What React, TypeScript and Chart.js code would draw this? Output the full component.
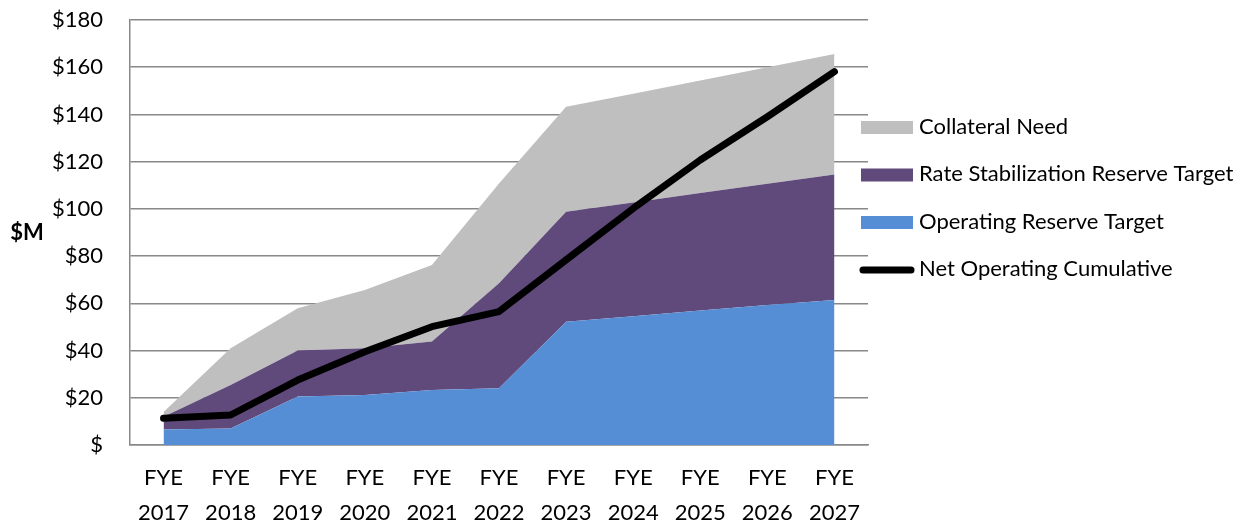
import React, { useEffect, useRef } from "react";
import { Chart, registerables } from "chart.js";

Chart.register(...registerables);

const categories: string[][] = [
  ["FYE", "2017"], ["FYE", "2018"], ["FYE", "2019"], ["FYE", "2020"], ["FYE", "2021"], ["FYE", "2022"],
  ["FYE", "2023"], ["FYE", "2024"], ["FYE", "2025"], ["FYE", "2026"], ["FYE", "2027"],
];
const operatingReserve = [6.6, 7, 20.5, 21.2, 23.3, 24, 52.2, 54.5, 57, 59.3, 61.4];
const rateStabilization = [5.4, 18.4, 19.5, 19.8, 20.5, 44.5, 46.6, 48.2, 49.7, 51.3, 53.2];
const collateralNeed = [2, 15.6, 17.9, 24.6, 32.4, 42.3, 44.5, 46.1, 47.7, 49.4, 51];
const netOperatingCumulative = [11.3, 12.7, 27.5, 39.5, 50.1, 56.5, 78.4, 100.2, 120.7, 139, 158.1];
const seriesNames = ["Operating Reserve Target", "Rate Stabilization Reserve Target", "Collateral Need", "Net Operating Cumulative"];
const yAxisTitle = "$M";
const yMin = 0;
const yMax = 180;
const yStep = 20;

const FONT = "Lato";
const FSIZE = 22;
const GRID = "#888888";

const legendPlugin = {
  id: "customLegend",
  afterDraw(chart: any) {
    const ctx = chart.ctx;
    const order = [2, 1, 0, 3];
    const x0 = 861;
    const boxW = 52;
    const boxH = 13;
    const startY = 127.5;
    const gap = 47.5;
    ctx.save();
    order.forEach((di, i) => {
      const ds = chart.data.datasets[di];
      const cy = startY + i * gap;
      if (di === 3) {
        ctx.strokeStyle = ds.borderColor;
        ctx.lineWidth = 7;
        ctx.lineCap = "round";
        ctx.beginPath();
        ctx.moveTo(x0 + 2, cy);
        ctx.lineTo(x0 + boxW - 2, cy);
        ctx.stroke();
      } else {
        ctx.fillStyle = ds.backgroundColor;
        ctx.fillRect(x0, cy - boxH / 2, boxW, boxH);
      }
      ctx.fillStyle = "#000";
      ctx.font = `${FSIZE}px ${FONT}`;
      ctx.textAlign = "left";
      ctx.textBaseline = "middle";
      ctx.fillText(ds.label, 919, cy - 1);
    });
    ctx.font = `bold ${FSIZE}px ${FONT}`;
    ctx.textAlign = "center";
    ctx.textBaseline = "middle";
    ctx.fillStyle = "#000";
    ctx.fillText(yAxisTitle, 27, (chart.chartArea.top + chart.chartArea.bottom) / 2);
    ctx.restore();
  },
};

export default function App() {
  const ref = useRef<HTMLCanvasElement | null>(null);
  useEffect(() => {
    document.body.style.margin = "0";
    if (!ref.current) return;
    const chart = new Chart(ref.current, {
      type: "line",
      data: {
        labels: categories,
        datasets: [
          {
            label: seriesNames[0],
            data: operatingReserve,
            backgroundColor: "#558ED5",
            borderColor: "#558ED5",
            borderWidth: 0,
            fill: "origin",
            pointRadius: 0,
            stack: "areas",
            order: 1,
          },
          {
            label: seriesNames[1],
            data: rateStabilization,
            backgroundColor: "#604A7B",
            borderColor: "#604A7B",
            borderWidth: 0,
            fill: "-1",
            pointRadius: 0,
            stack: "areas",
            order: 1,
          },
          {
            label: seriesNames[2],
            data: collateralNeed,
            backgroundColor: "#BFBFBF",
            borderColor: "#BFBFBF",
            borderWidth: 0,
            fill: "-1",
            pointRadius: 0,
            stack: "areas",
            order: 1,
          },
          {
            label: seriesNames[3],
            data: netOperatingCumulative,
            borderColor: "#000000",
            backgroundColor: "#000000",
            borderWidth: 7,
            borderCapStyle: "round",
            borderJoinStyle: "round",
            fill: false,
            pointRadius: 0,
            stack: "net",
            order: 0,
          },
        ] as any,
      },
      options: {
        animation: false,
        responsive: true,
        maintainAspectRatio: false,
        layout: { padding: { top: 20, right: 382, left: 0, bottom: 0 } },
        plugins: {
          legend: { display: false },
          tooltip: { enabled: false },
        },
        elements: { line: { tension: 0 } },
        scales: {
          x: {
            type: "category",
            offset: true,
            grid: { display: false, drawTicks: false },
            border: { display: true, color: GRID, width: 1.5 },
            ticks: {
              color: "#000",
              padding: 15,
              maxRotation: 0,
              autoSkip: false,
              font: { family: FONT, size: FSIZE, lineHeight: 1.59 },
            },
            afterFit: (s: any) => {
              s.height = 79;
              s.paddingLeft = 0;
              s.paddingRight = 0;
            },
          },
          y: {
            stacked: true,
            min: yMin,
            max: yMax,
            grid: { color: GRID, lineWidth: 1.5, drawTicks: false },
            border: { display: true, color: GRID, width: 1.5 },
            ticks: {
              stepSize: yStep,
              color: "#000",
              padding: 27,
              font: { family: FONT, size: FSIZE },
              callback: (v: any) => (Number(v) === 0 ? "$" : "$" + v),
            },
            afterFit: (s: any) => {
              s.width = 130;
              s.paddingTop = 0;
              s.paddingBottom = 0;
            },
          },
        },
      } as any,
      plugins: [legendPlugin],
    });
    return () => chart.destroy();
  }, []);
  return (
    <div style={{ width: 1250, height: 524, position: "relative" }}>
      <canvas ref={ref} />
    </div>
  );
}
